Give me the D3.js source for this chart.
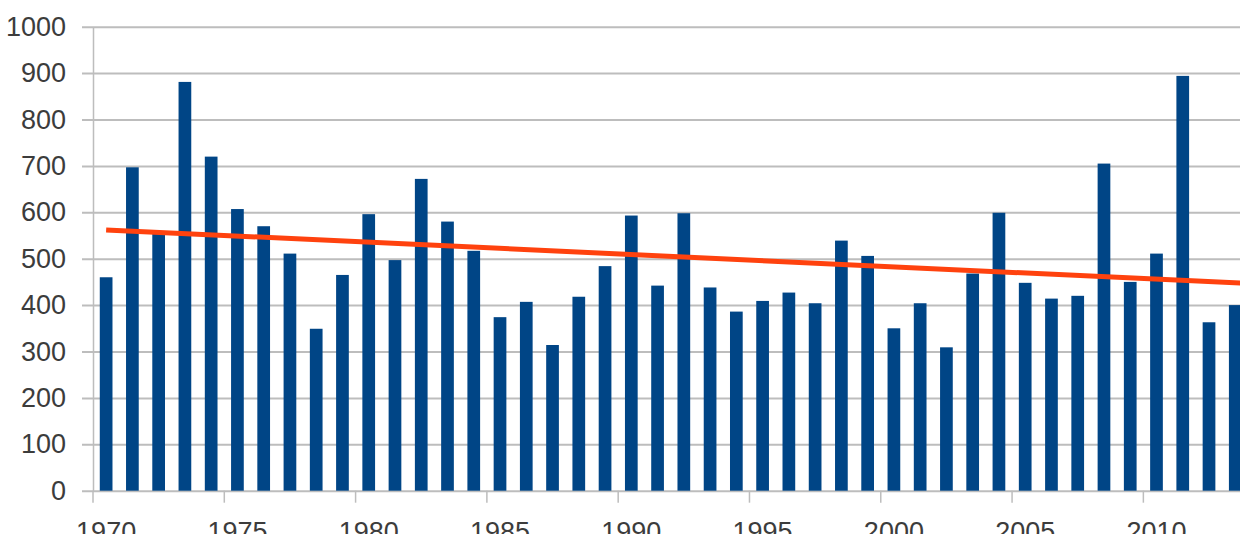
<!DOCTYPE html>
<html>
<head>
<meta charset="utf-8">
<script src="https://cdn.jsdelivr.net/npm/d3@7"></script>
<style>
    html, body { margin: 0; padding: 0; background: #ffffff; overflow: hidden; }
    svg { display: block; }
</style>
</head>
<body>
<svg id="chart-svg"></svg>
<script>
'use strict';

//------------------------------------------------------------
// chart data
//------------------------------------------------------------
const years = [1970, 1971, 1972, 1973, 1974, 1975, 1976, 1977, 1978, 1979,
               1980, 1981, 1982, 1983, 1984, 1985, 1986, 1987, 1988, 1989,
               1990, 1991, 1992, 1993, 1994, 1995, 1996, 1997, 1998, 1999,
               2000, 2001, 2002, 2003, 2004, 2005, 2006, 2007, 2008, 2009,
               2010, 2011, 2012, 2013];
const values = [460, 697, 558, 881, 720, 607, 570, 511, 349, 465,
                596, 497, 672, 580, 517, 374, 407, 314, 418, 484,
                593, 442, 598, 438, 386, 409, 427, 404, 539, 506,
                350, 404, 309, 468, 599, 448, 414, 420, 705, 450,
                511, 894, 363, 400];
const yTicks = [0, 100, 200, 300, 400, 500, 600, 700, 800, 900, 1000];
const xLabelYears = [1970, 1975, 1980, 1985, 1990, 1995, 2000, 2005, 2010];

// linear trend line, start and end
const trendYears = [1970, 2013];
const trendValues = [562, 448];

{ // start scope

const width = 1240;
const height = 534;

// plot area (right side runs past the window edge, as in the picture)
const plotLeft = 93;
const plotRight = 1248.4;
const plotTop = 26.7;
const plotBottom = 490.7;

const gridColor = "#bdbdbd";
const textColor = "#3c3c3c";
const fontFamily = "\"Liberation Sans\", Arial, sans-serif";

const svg = d3.select("#chart-svg")
    .attr("width", width)
    .attr("height", height);

//------------------------------------------------------------
// scales
//------------------------------------------------------------
const x = d3.scaleBand()
    .domain(years)
    .range([plotLeft, plotRight])
    .paddingInner(0.516)
    .paddingOuter(0.258);

const y = d3.scaleLinear()
    .domain([0, 1000])
    .range([plotBottom, plotTop]);

// year -> bar centre, used for the trend line
const xCenter = d3.scaleLinear()
    .domain([years[0], years[years.length - 1]])
    .range([x(years[0]) + x.bandwidth() / 2,
            x(years[years.length - 1]) + x.bandwidth() / 2]);

//------------------------------------------------------------
// y axis with grid lines
//------------------------------------------------------------
const yAxis = svg.append("g")
    .attr("transform", `translate(${plotLeft},0)`)
    .call(d3.axisLeft(y)
        .tickValues(yTicks)
        .tickFormat(d3.format("d"))
        .tickSizeOuter(0)
        .tickPadding(21));

yAxis.select(".domain")
    .attr("stroke", gridColor)
    .attr("stroke-width", 1.5);

yAxis.selectAll(".tick line")
    .attr("x1", -11)
    .attr("x2", plotRight - plotLeft)
    .attr("stroke", gridColor)
    .attr("stroke-width", 2);

yAxis.selectAll(".tick text")
    .attr("fill", textColor)
    .attr("font-family", fontFamily)
    .attr("font-size", 27);

//------------------------------------------------------------
// bars
//------------------------------------------------------------
svg.append("g")
    .selectAll("rect")
    .data(years)
    .enter()
    .append("rect")
    .attr("x", (d) => x(d))
    .attr("y", (d, i) => y(values[i]))
    .attr("width", x.bandwidth())
    .attr("height", (d, i) => y(0) - y(values[i]))
    .attr("fill", "#004586");

//------------------------------------------------------------
// x axis: labels centred on bars, tick marks at cell edges
// (labels run off the bottom edge, as in the picture)
//------------------------------------------------------------
const xAxis = svg.append("g")
    .attr("transform", `translate(0,${plotBottom})`)
    .call(d3.axisBottom(x)
        .tickValues(xLabelYears)
        .tickSizeOuter(0)
        .tickSize(12)
        .tickPadding(19));

xAxis.select(".domain").remove();

xAxis.selectAll(".tick line")
    .attr("x1", -x.step() / 2)
    .attr("x2", -x.step() / 2)
    .attr("stroke", gridColor)
    .attr("stroke-width", 1.5);

xAxis.selectAll(".tick text")
    .attr("fill", textColor)
    .attr("font-family", fontFamily)
    .attr("font-size", 27);

//------------------------------------------------------------
// trend line
//------------------------------------------------------------
const trendScale = d3.scaleLinear()
    .domain(trendYears)
    .range(trendValues);

const trendPoints = [trendYears[0], trendYears[1] + 1].map((yr) => [yr, trendScale(yr)]);

svg.append("path")
    .datum(trendPoints)
    .attr("d", d3.line()
        .x((d) => xCenter(d[0]))
        .y((d) => y(d[1])))
    .attr("fill", "none")
    .attr("stroke", "#ff420e")
    .attr("stroke-width", 5);

} // end scope
</script>
</body>
</html>
